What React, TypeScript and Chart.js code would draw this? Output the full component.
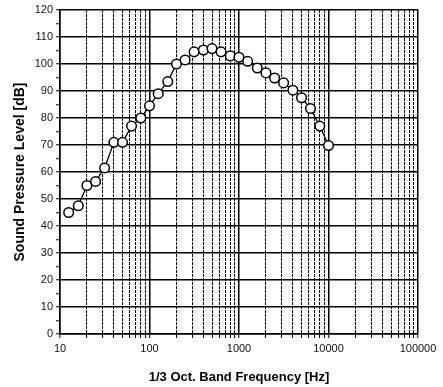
import React, { useEffect, useRef } from "react";
import { Chart, registerables } from "chart.js";

Chart.register(...registerables);

const FREQUENCIES = [12.5, 16, 20, 25, 31.5, 40, 50, 63, 80, 100, 125, 160, 200, 250, 315, 400, 500, 630, 800, 1000, 1250, 1600, 2000, 2500, 3150, 4000, 5000, 6300, 8000, 10000];
const LEVELS = [45, 47.5, 55, 56.5, 61.5, 71, 71, 77, 80, 84.5, 89, 93.5, 100, 101.5, 104.5, 105.2, 105.7, 104.5, 103, 102.5, 101, 98.5, 96.7, 94.8, 93, 90.3, 87.5, 83.5, 77, 69.8];
const DECADES = [10, 100, 1000, 10000, 100000];
const MINOR_MULTS = [2, 3, 4, 5, 6, 7, 8, 9];
const Y_MIN = 0;
const Y_MAX = 120;
const Y_TICK_STEP = 5;
const X_TITLE = "1/3 Oct. Band Frequency [Hz]";
const Y_TITLE = "Sound Pressure Level [dB]";

const FONT = "'Liberation Sans', Arial, sans-serif";

const isDecade = (v: number) => DECADES.some((d) => Math.abs(d - v) < 1e-6);

export default function App() {
  const ref = useRef<HTMLCanvasElement | null>(null);
  useEffect(() => {
    if (!ref.current) return;
    const chart = new Chart(ref.current, {
      type: "line",
      data: {
        datasets: [
          {
            data: FREQUENCIES.map((f, i) => ({ x: f, y: LEVELS[i] })),
            borderColor: "#000",
            borderWidth: 1.3,
            pointRadius: 4.8,
            pointBorderWidth: 1.5,
            pointBackgroundColor: "#fff",
            pointBorderColor: "#000",
            tension: 0,
          },
        ],
      },
      options: {
        responsive: false,
        animation: false,
        layout: { padding: { left: 0, top: 10, right: 25, bottom: 0 } },
        plugins: { legend: { display: false }, tooltip: { enabled: false } },
        scales: {
          x: {
            type: "logarithmic",
            min: DECADES[0],
            max: DECADES[DECADES.length - 1],
            afterBuildTicks: (scale: any) => {
              const t: any[] = [];
              DECADES.forEach((d, i) => {
                t.push({ value: d, major: true });
                if (i < DECADES.length - 1) MINOR_MULTS.forEach((m) => t.push({ value: d * m }));
              });
              scale.ticks = t;
            },
            afterFit: (scale: any) => {
              scale.height = 53;
            },
            ticks: {
              autoSkip: false,
              maxRotation: 0,
              color: "#111",
              font: { family: FONT, size: 11 },
              padding: 4,
              callback: (v: any) => (isDecade(Number(v)) ? String(Number(v)) : ""),
            },
            grid: {
              color: "#000",
              lineWidth: (ctx: any) => (ctx.tick && isDecade(ctx.tick.value) ? 1.5 : 1),
              tickLength: 4,
              tickColor: "#000",
              tickWidth: 1,
            },
            border: {
              color: "#000",
              width: 1.5,
              dash: (ctx: any) => (ctx.tick && !isDecade(ctx.tick.value) ? [3, 1] : []),
            },
            title: {
              display: true,
              text: X_TITLE,
              color: "#000",
              font: { family: FONT, size: 13, weight: "bold" },
              padding: { top: 6, bottom: 2 },
            },
          },
          y: {
            min: Y_MIN,
            max: Y_MAX,
            afterFit: (scale: any) => {
              scale.width = 60;
            },
            ticks: {
              stepSize: Y_TICK_STEP,
              autoSkip: false,
              color: "#111",
              font: { family: FONT, size: 11 },
              padding: 3,
              callback: (v: any) => (Number(v) % 10 === 0 ? String(v) : ""),
            },
            grid: {
              color: (ctx: any) => (ctx.tick && ctx.tick.value % 10 !== 0 ? "rgba(0,0,0,0)" : "#000"),
              lineWidth: 1.5,
              tickLength: 4,
              tickColor: "#000",
              tickWidth: 1,
            },
            border: { color: "#000", width: 1.5 },
            title: {
              display: true,
              text: Y_TITLE,
              color: "#000",
              font: { family: FONT, size: 14, weight: "bold" },
              padding: { top: 12, bottom: 0 },
            },
          },
        },
      } as any,
    });
    return () => chart.destroy();
  }, []);
  return (
    <div style={{ position: "absolute", left: 0, top: 0, width: 443, height: 387, background: "#fff" }}>
      <canvas ref={ref} width={443} height={387} style={{ display: "block" }} />
    </div>
  );
}
